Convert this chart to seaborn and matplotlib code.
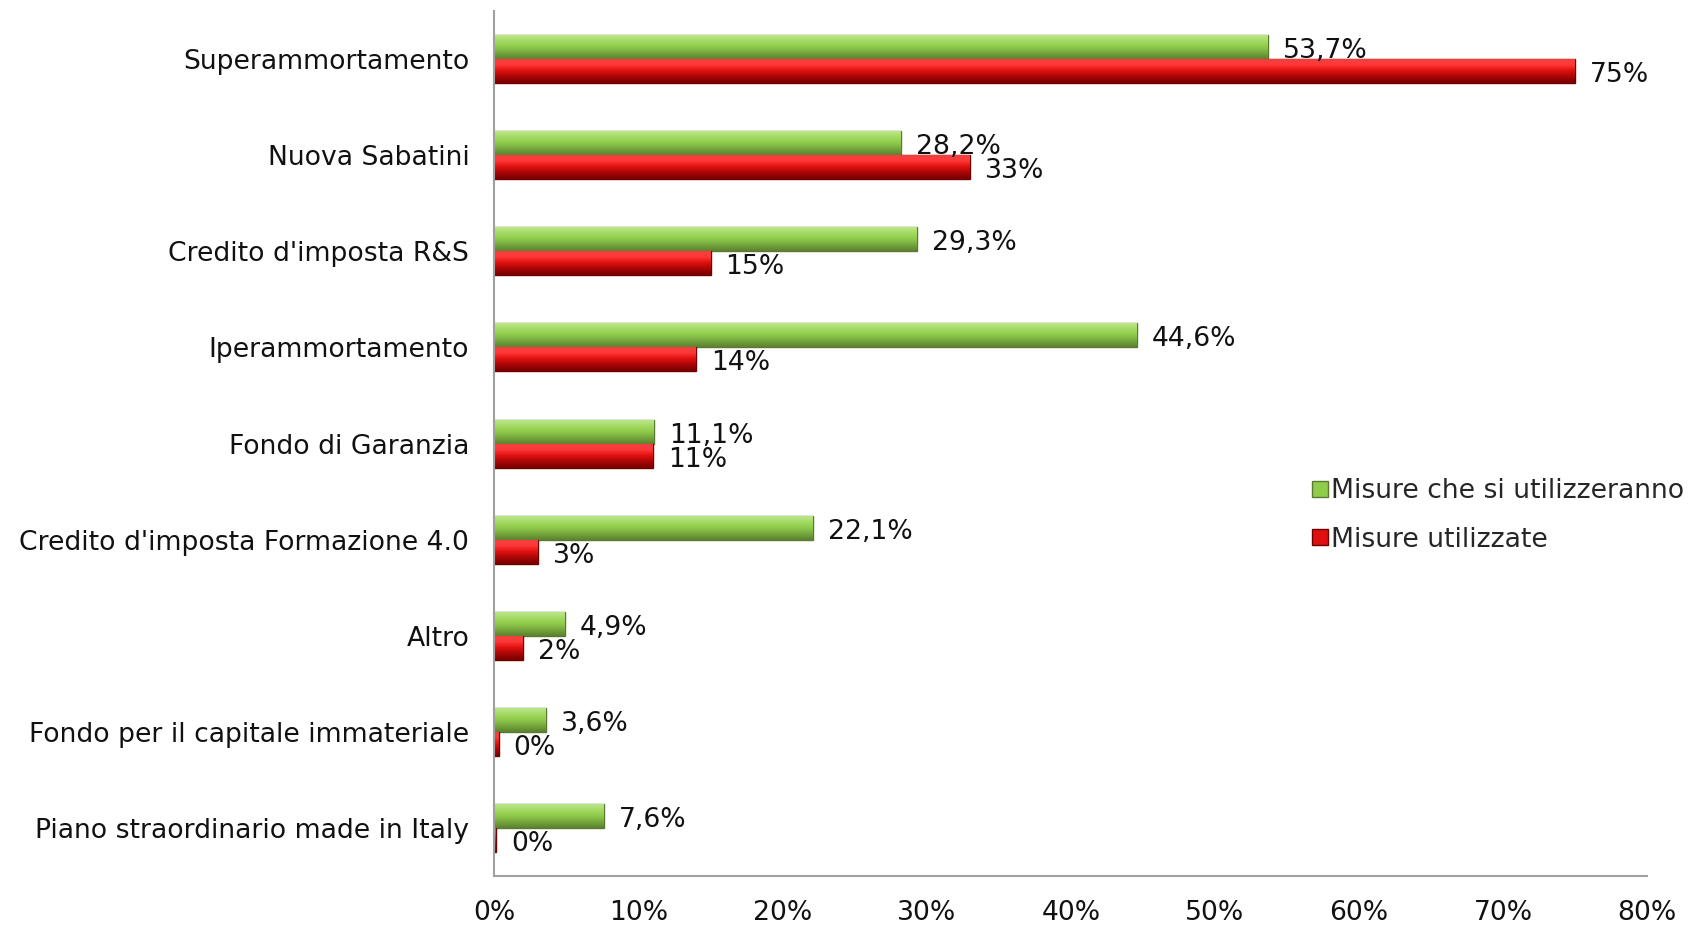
import numpy as np
import pandas as pd
import matplotlib
matplotlib.use("Agg")
import matplotlib.pyplot as plt
import seaborn as sns
from matplotlib.colors import LinearSegmentedColormap
from matplotlib.lines import Line2D

categories = ["Superammortamento", "Nuova Sabatini", "Credito d'imposta R&S",
              "Iperammortamento", "Fondo di Garanzia",
              "Credito d'imposta Formazione 4.0", "Altro",
              "Fondo per il capitale immateriale",
              "Piano straordinario made in Italy"]
future_vals = [53.7, 28.2, 29.3, 44.6, 11.1, 22.1, 4.9, 3.6, 7.6]
used_vals = [75, 33, 15, 14, 11, 3, 2, 0.3, 0.1]
series_names = ["Misure che si utilizzeranno", "Misure utilizzate"]
future_labels = ["53,7%", "28,2%", "29,3%", "44,6%", "11,1%", "22,1%", "4,9%", "3,6%", "7,6%"]
used_labels = ["75%", "33%", "15%", "14%", "11%", "3%", "2%", "0%", "0%"]
xticks = [0, 10, 20, 30, 40, 50, 60, 70, 80]

df = pd.DataFrame({
    "cat": categories * 2,
    "val": future_vals + used_vals,
    "serie": [series_names[0]] * len(categories) + [series_names[1]] * len(categories),
})

sns.set_theme(style="white")
plt.rcParams['font.family'] = ['DejaVu Sans']
FS = 19.2

fig = plt.figure(figsize=(16.93, 9.27), dpi=100)
ax = fig.add_axes([0.292, 0.055, 0.681, 0.933])

green = "#8fcc4a"
red = "#e01010"
sns.barplot(data=df, y="cat", x="val", hue="serie", orient="h",
            palette=[green, red], width=0.5, ax=ax, legend=False,
            saturation=1, errorbar=None)

cmap_g = LinearSegmentedColormap.from_list("g", ["#c3e894", "#a6dc66", "#8fcc4a", "#76a83e", "#5d8030"])
cmap_r = LinearSegmentedColormap.from_list("r", ["#f04040", "#ff3a3a", "#e01010", "#a80606", "#780000"])
edge_g = "#5a7a30"
edge_r = "#6e0000"

ax.set_xlim(0, 80)
ax.set_ylim(len(categories) - 0.5, -0.5)
xl, yl = ax.get_xlim(), ax.get_ylim()
grad = np.linspace(0, 1, 64).reshape(-1, 1)
for ci, cont in enumerate(ax.containers):
    cmap = cmap_g if ci == 0 else cmap_r
    ec = edge_g if ci == 0 else edge_r
    for p in cont.patches:
        x0, y0, w, h = p.get_x(), p.get_y(), p.get_width(), p.get_height()
        p.set_edgecolor(ec)
        p.set_linewidth(1.0)
        im = ax.imshow(grad, cmap=cmap, aspect="auto", origin="upper",
                       extent=(x0, x0 + w, y0 + h, y0), zorder=p.get_zorder() + 0.1,
                       interpolation="bilinear")
        im.set_clip_path(p)
ax.set_xlim(xl)
ax.set_ylim(yl)

for ci, cont in enumerate(ax.containers):
    labs = future_labels if ci == 0 else used_labels
    for p, lab in zip(cont.patches, labs):
        ax.annotate(lab, (p.get_x() + p.get_width(), p.get_y() + p.get_height() / 2),
                    xytext=(15, -4), textcoords="offset pixels",
                    ha="left", va="center", fontsize=FS, color="#111111")

ax.set_xticks(xticks)
ax.set_xticklabels([f"{t}%" for t in xticks])
ax.tick_params(axis="x", length=0, pad=17, labelsize=FS, labelcolor="#111111")
ax.tick_params(axis="y", length=0, pad=18, labelsize=FS, labelcolor="#111111")
ax.set_xlabel("")
ax.set_ylabel("")
for s in ["top", "right"]:
    ax.spines[s].set_visible(False)
for s in ["left", "bottom"]:
    ax.spines[s].set_color("#a0a0a0")
    ax.spines[s].set_linewidth(1.5)

handles = [Line2D([], [], marker="s", linestyle="", markersize=11,
                  markerfacecolor=green, markeredgecolor=edge_g),
           Line2D([], [], marker="s", linestyle="", markersize=11,
                  markerfacecolor=red, markeredgecolor=edge_r)]
fig.legend(handles, series_names, loc="center left",
           bbox_to_anchor=(0.767, 0.444), frameon=False, fontsize=FS,
           handletextpad=0.0, labelspacing=0.85, handlelength=0.8,
           borderaxespad=0.0)

fig.savefig("out.png", dpi=100)
